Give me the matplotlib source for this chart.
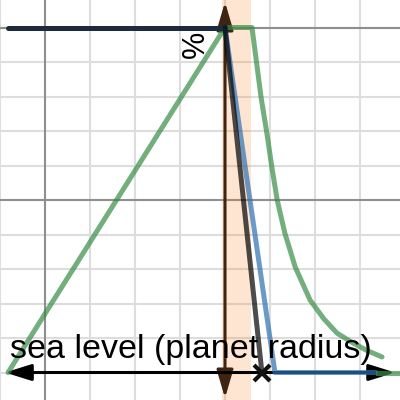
import matplotlib
matplotlib.use("Agg")
import matplotlib.pyplot as plt
from matplotlib.patches import FancyArrowPatch
import numpy as np

# ---- data (graph units: x grid step 1, y grid step 1) ----
grid_x = [-1, 0, 1, 2, 3, 4, 5, 6, 7]
grid_y = [-5, -4, -3, -2, -1, 0, 1, 2, 3, 4, 5]
major_x = [0]
major_y = [0, 5]

# green profile (rise, plateau, decay)
green_x = [-0.82, 4.0, 4.6, 4.8, 4.93, 5.04, 5.16, 5.33, 5.56, 5.89, 6.2, 6.49, 6.84, 7.15, 7.49]
green_y = [-5.0, 5.0, 5.0, 2.99, 1.94, 0.96, 0.0, -0.96, -1.94, -2.90, -3.45, -3.86, -4.14, -4.36, -4.55]
green_tail_x = [7.4, 8.0]
green_tail_y = [-5.0, -5.0]

# dark navy top level
navy_x = [-0.82, 4.0]
navy_y = [5.0, 5.0]

# gray line down to the x marker
gray_x = [4.0, 4.82]
gray_y = [5.0, -5.0]
marker_x = [4.82]
marker_y = [-5.0]

# blue line
blue_x = [4.0, 5.11, 7.33]
blue_y = [5.0, -5.0, -5.0]

# shaded band and vertical arrow
band_x = [3.93, 4.58]
vert_x = 4.0
vert_y = [-5.74, 5.74]

# horizontal axis arrow
axis_x = [-0.89, 7.78]
axis_y = -5.0

label_text = "sea level (planet radius)"
label_pos = (-0.78, -4.58)
pct_text = "%"
pct_pos = (3.36, 4.52)

# ---- figure ----
fig = plt.figure(figsize=(4, 4), dpi=100)
ax = fig.add_axes([0, 0, 1, 1])
ax.set_xlim(-1, 355 / 45)
ax.set_ylim(-200 / 34.5, 200 / 34.5)
for s in ax.spines.values():
    s.set_visible(False)
ax.set_xticks([])
ax.set_yticks([])

for gx in grid_x:
    ax.axvline(gx, color="#dddddd", lw=1.5, zorder=0)
for gy in grid_y:
    ax.axhline(gy, color="#dddddd", lw=1.5, zorder=0)
for gx in major_x:
    ax.axvline(gx, color="#8f8f8f", lw=1.5, zorder=0.5)
for gy in major_y:
    ax.axhline(gy, color="#8f8f8f", lw=1.5, zorder=0.5)

ax.axvspan(band_x[0], band_x[1], color="#fa7e19", alpha=0.2, lw=0, zorder=1)

# vertical brown double arrow
va = FancyArrowPatch((vert_x, vert_y[0]), (vert_x, vert_y[1]),
                     arrowstyle="<|-|>,head_length=17,head_width=5",
                     mutation_scale=1, color="#3f2410", lw=2.2,
                     shrinkA=0, shrinkB=0, zorder=2)
ax.add_patch(va)

# horizontal black double arrow
ha = FancyArrowPatch((axis_x[0], axis_y), (axis_x[1], axis_y),
                     arrowstyle="<|-|>,head_length=16,head_width=5",
                     mutation_scale=1, color="black", lw=2.2,
                     shrinkA=0, shrinkB=0, zorder=3)
ax.add_patch(ha)

ax.plot(green_x, green_y, color="#388c46", alpha=0.7, lw=3.6,
        solid_joinstyle="round", solid_capstyle="round", zorder=4)
ax.plot(navy_x, navy_y, color="#1d2b3e", lw=3.6, solid_capstyle="round", zorder=4)
ax.plot(blue_x, blue_y, color="#2d70b3", alpha=0.7, lw=3.6,
        solid_joinstyle="round", zorder=5)
ax.plot(gray_x, gray_y, color="#000000", alpha=0.7, lw=3.6, zorder=5)
ax.plot(marker_x, marker_y, linestyle="none", marker="x", markersize=11,
        markeredgewidth=3, color="#111111", zorder=6)
ax.plot(green_tail_x, green_tail_y, color="#388c46", alpha=0.7, lw=3.6, zorder=6)

ax.text(label_pos[0], label_pos[1], label_text, fontsize=24.5,
        family="Liberation Sans", ha="left", va="baseline", color="black", zorder=7)
ax.text(pct_pos[0], pct_pos[1], pct_text, fontsize=22, rotation=90,
        family="Liberation Sans", ha="center", va="center", color="black", zorder=7)

fig.savefig("out.png", dpi=100)
